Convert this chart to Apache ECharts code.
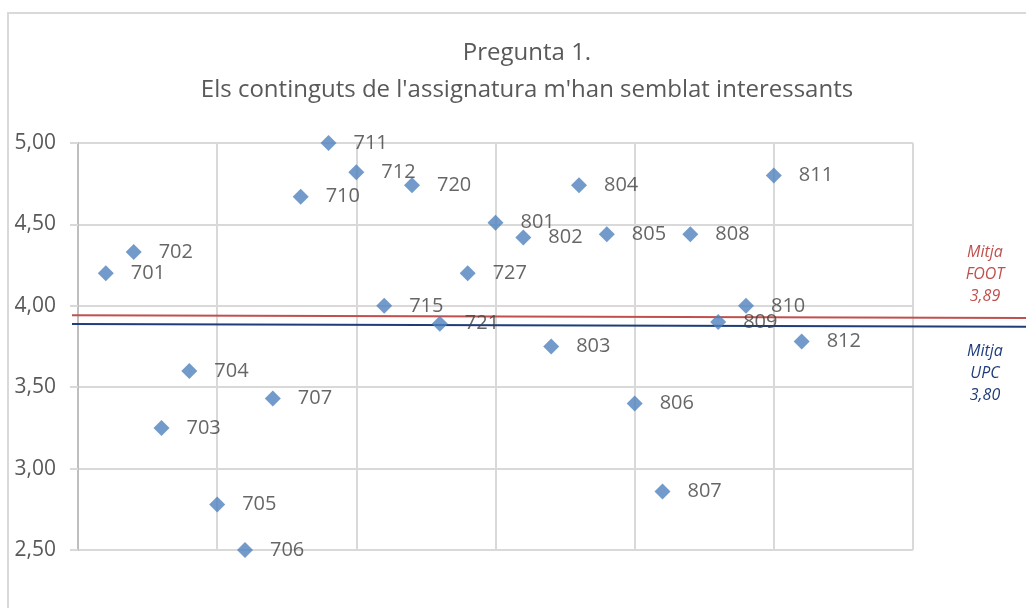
<!DOCTYPE html>
<html>
<head>
<meta charset="utf-8">
<script src="https://cdn.jsdelivr.net/npm/echarts@6/dist/echarts.min.js"></script>
<style>
  html, body { margin: 0; padding: 0; background: #fff; }
  #chart { width: 1026px; height: 608px; }
</style>
</head>
<body>
<div id="chart"></div>
<script>
// codis de grup i posició a l'eix x
var groups = ["701", "702", "703", "704", "705", "706", "707", "710", "711", "712", "715", "720", "721",
  "727", "801", "802", "803", "804", "805", "806", "807", "808", "809", "810", "811", "812"];
var xPos = [1, 2, 3, 4, 5, 6, 7, 8, 9, 10, 11, 12, 13, 14, 15, 16, 17, 18, 19, 20, 21, 22, 23, 24, 25, 26];
var scores = [4.20, 4.33, 3.25, 3.60, 2.78, 2.50, 3.43, 4.67, 5.00, 4.82, 4.00, 4.74, 3.89,
  4.20, 4.51, 4.42, 3.75, 4.74, 4.44, 3.40, 2.86, 4.44, 3.90, 4.00, 4.80, 3.78];

// línies de mitjana (com a l'original, lleugerament inclinades), extrems esquerre i dret
var footLineY = [3.942, 3.925];
var upcLineY = [3.888, 3.872];

var yTicks = [2.5, 3.0, 3.5, 4.0, 4.5, 5.0];

var chart = echarts.init(document.getElementById("chart"));

var pts = xPos.map(function (x, i) {
  return { value: [x, scores[i]], name: groups[i] };
});

chart.setOption({
  animation: false,
  textStyle: { fontFamily: "Open Sans" },
  title: {
    text: "Pregunta 1.\nEls continguts de l'assignatura m'han semblat interessants",
    left: 522,
    top: 30,
    textAlign: "center",
    textStyle: {
      color: "#595959",
      fontSize: 24,
      fontWeight: "normal",
      lineHeight: 37,
    },
  },
  graphic: [
    {
      type: "rect",
      shape: { x: 8, y: 13, width: 1040, height: 620 },
      style: { fill: "none", stroke: "#d9d9d9", lineWidth: 2 },
      silent: true,
    },
    {
      type: "text",
      x: 985,
      y: 241,
      style: {
        text: "Mitja\nFOOT\n3,89",
        fill: "#c0504d",
        font: "italic 16px 'Open Sans'",
        lineHeight: 22,
        align: "center",
        verticalAlign: "top",
      },
    },
    {
      type: "text",
      x: 985,
      y: 340,
      style: {
        text: "Mitja\nUPC\n3,80",
        fill: "#1f3d7a",
        font: "italic 16px 'Open Sans'",
        lineHeight: 22,
        align: "center",
        verticalAlign: "top",
      },
    },
  ],
  grid: [
    { left: 78, right: 113, top: 143, bottom: 58 },
    { left: 72, right: 0, top: 143, bottom: 58 },
  ],
  xAxis: [
    {
      type: "value",
      gridIndex: 0,
      min: 0,
      max: 30,
      interval: 5,
      axisLine: { show: false },
      axisTick: { show: false },
      axisLabel: { show: false },
      splitLine: { show: true, lineStyle: { color: "#d9d9d9", width: 2 } },
    },
    {
      type: "value",
      gridIndex: 1,
      min: 0,
      max: 1,
      show: false,
    },
  ],
  yAxis: [
    {
      type: "value",
      gridIndex: 0,
      min: yTicks[0],
      max: yTicks[yTicks.length - 1],
      interval: 0.5,
      axisLine: { show: true, lineStyle: { color: "#bfbfbf", width: 2 } },
      axisTick: { show: true, length: 8, lineStyle: { color: "#d9d9d9", width: 2 } },
      axisLabel: {
        color: "#595959",
        fontSize: 21,
        margin: 22,
        formatter: function (v) {
          return v.toFixed(2).replace(".", ",");
        },
      },
      splitLine: { show: true, lineStyle: { color: "#d9d9d9", width: 2 } },
    },
    {
      type: "value",
      gridIndex: 1,
      min: yTicks[0],
      max: yTicks[yTicks.length - 1],
      show: false,
    },
  ],
  series: [
    {
      name: "FOOT",
      type: "line",
      xAxisIndex: 1,
      yAxisIndex: 1,
      symbol: "none",
      data: footLineY.map(function (y, i) { return [i, y]; }),
      lineStyle: { color: "#c0504d", width: 2 },
      z: 1,
    },
    {
      name: "UPC",
      type: "line",
      xAxisIndex: 1,
      yAxisIndex: 1,
      symbol: "none",
      data: upcLineY.map(function (y, i) { return [i, y]; }),
      lineStyle: { color: "#1f3d7a", width: 2 },
      z: 1,
    },
    {
      name: "Grups",
      type: "scatter",
      symbol: "diamond",
      symbolSize: 16,
      clip: false,
      data: pts,
      itemStyle: { color: "#4f81bd" },
      label: {
        show: true,
        position: "right",
        distance: 17,
        color: "#404040",
        fontSize: 20,
        formatter: function (p) {
          return p.name;
        },
      },
      z: 3,
    },
  ],
});
</script>
</body>
</html>
